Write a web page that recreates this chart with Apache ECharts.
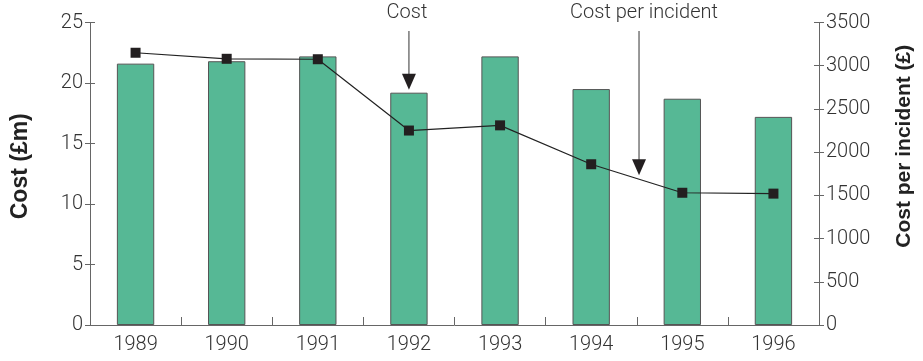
<!DOCTYPE html>
<html>
<head>
<meta charset="utf-8">
<script src="https://cdn.jsdelivr.net/npm/echarts@6/dist/echarts.min.js"></script>
<style>
  html, body { margin: 0; padding: 0; background: #fff; }
  #chart { width: 923px; height: 361px; }
</style>
</head>
<body>
<div id="chart"></div>
<script>
// Annual cost and cost per incident, 1989–1996
var years = ['1989', '1990', '1991', '1992', '1993', '1994', '1995', '1996'];
var costMillions = [21.6, 21.8, 22.2, 19.2, 22.2, 19.5, 18.7, 17.2];
var costPerIncident = [3150, 3080, 3075, 2250, 2310, 1860, 1530, 1520];

var costTicks = { min: 0, max: 25, interval: 5 };
var perIncidentTicks = { min: 0, max: 3500, interval: 500 };

var FONT = 'Roboto, Liberation Sans, Arial, sans-serif';
var TITLE_FONT = 'Liberation Sans, Arial, sans-serif';
var AXIS_COLOR = '#666';
var TEXT_COLOR = '#333';

var chart = echarts.init(document.getElementById('chart'), null, { renderer: 'canvas' });

function valueAxis(ticks, pos, name, nameSize, nameGap, namePad) {
  return {
    type: 'value',
    position: pos,
    min: ticks.min, max: ticks.max, interval: ticks.interval,
    name: name,
    nameLocation: 'middle',
    nameRotate: 90,
    nameGap: nameGap,
    nameTextStyle: { fontFamily: TITLE_FONT, fontSize: nameSize, fontWeight: 'bold', color: '#222', padding: namePad },
    axisLine: { show: true, lineStyle: { color: AXIS_COLOR, width: 1 } },
    axisTick: { show: true, length: 5, lineStyle: { color: AXIS_COLOR } },
    axisLabel: { fontFamily: FONT, fontWeight: 300, fontSize: 20, color: TEXT_COLOR, margin: 7,
                 formatter: function (v) { return String(v); } },
    splitLine: { show: false }
  };
}

// Inner half of the crossing tick marks on both value axes
function innerTicks(ticks, pos) {
  return {
    type: 'value', position: pos,
    min: ticks.min, max: ticks.max, interval: ticks.interval,
    axisLine: { show: false },
    axisTick: { show: true, inside: true, length: 5, lineStyle: { color: AXIS_COLOR } },
    axisLabel: { show: false },
    splitLine: { show: false }
  };
}

chart.setOption({
  animation: false,
  backgroundColor: '#fff',
  grid: { left: 90, right: 101, top: 22.5, bottom: 36, containLabel: false },
  xAxis: {
    type: 'category',
    data: years,
    boundaryGap: true,
    axisLine: { lineStyle: { color: AXIS_COLOR, width: 1 } },
    axisTick: { show: true, inside: true, length: 8, alignWithLabel: false, lineStyle: { color: AXIS_COLOR } },
    axisLabel: { fontFamily: FONT, fontWeight: 300, fontSize: 20, color: TEXT_COLOR, margin: 10 }
  },
  yAxis: [
    valueAxis(costTicks, 'left', 'Cost (£m)', 23, 58, [0, 0, 0, 15]),
    valueAxis(perIncidentTicks, 'right', 'Cost per incident (£)', 21, 75, [0, 0, 0, 55]),
    innerTicks(costTicks, 'left'),
    innerTicks(perIncidentTicks, 'right')
  ],
  series: [
    {
      name: 'Cost',
      type: 'bar',
      yAxisIndex: 0,
      data: costMillions,
      barWidth: '41%',
      itemStyle: { color: '#56b895', borderColor: '#555', borderWidth: 1 }
    },
    {
      name: 'Cost per incident',
      type: 'line',
      yAxisIndex: 1,
      data: costPerIncident,
      symbol: 'rect',
      symbolSize: 10,
      lineStyle: { color: '#222', width: 1.2 },
      itemStyle: { color: '#231f20' },
      z: 5
    }
  ]
});

// Labelled arrows pointing at the two series
function arrow(x, yTop, yTip, label, labelX) {
  var head = 16, half = 7;
  return [
    { type: 'line', shape: { x1: x, y1: yTop, x2: x, y2: yTip - head + 1 },
      style: { stroke: '#333', lineWidth: 1 }, z: 10 },
    { type: 'polygon', shape: { points: [[x - half, yTip - head], [x + half, yTip - head], [x, yTip]] },
      style: { fill: '#231f20' }, z: 10 },
    { type: 'text', x: labelX, y: 13,
      style: { text: label, fontFamily: FONT, fontWeight: 300, fontSize: 20, fill: TEXT_COLOR, align: 'center', verticalAlign: 'middle' }, z: 10 }
  ];
}

var barTop = chart.convertToPixel({ xAxisIndex: 0, yAxisIndex: 0 }, ['1992', costMillions[3]]);
var p94 = chart.convertToPixel({ xAxisIndex: 0, yAxisIndex: 1 }, ['1994', costPerIncident[5]]);
var p95 = chart.convertToPixel({ xAxisIndex: 0, yAxisIndex: 1 }, ['1995', costPerIncident[6]]);
var t = 0.525;
var lineX = p94[0] + (p95[0] - p94[0]) * t;
var lineY = p94[1] + (p95[1] - p94[1]) * t;

chart.setOption({
  graphic: [].concat(
    arrow(barTop[0], 31, barTop[1] - 3, 'Cost', barTop[0] - 2),
    arrow(lineX, 31, lineY - 4, 'Cost per incident', lineX + 5)
  )
});
</script>
</body>
</html>
